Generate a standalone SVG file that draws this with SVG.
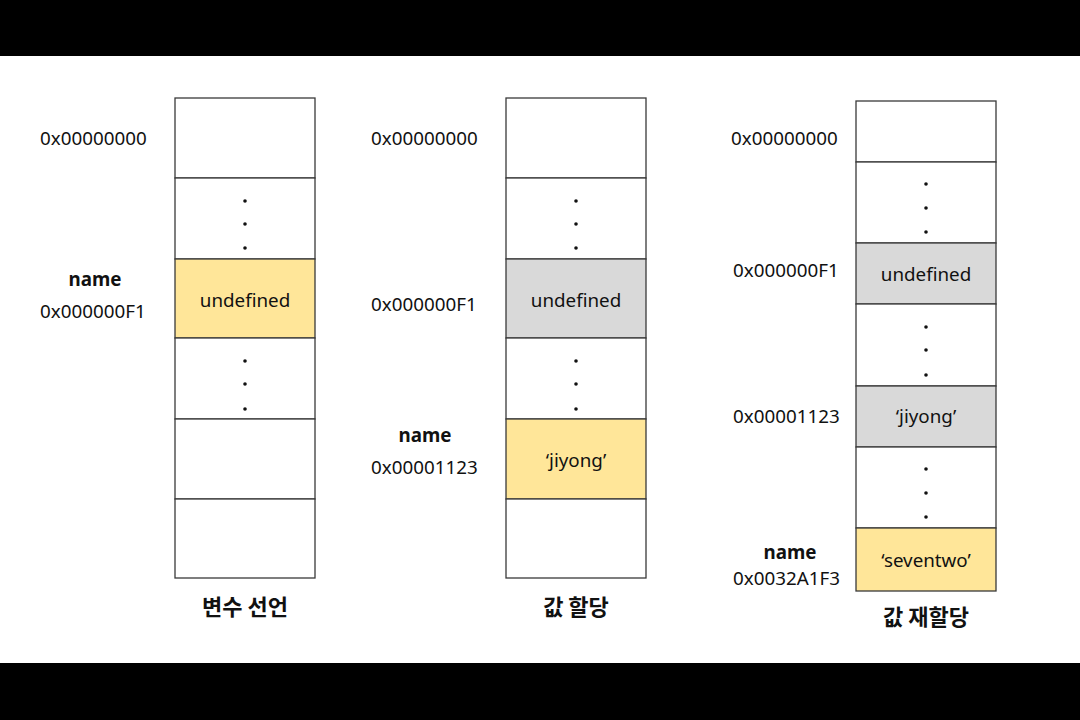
<svg xmlns="http://www.w3.org/2000/svg" width="1080" height="720" viewBox="0 0 1080 720">
<style>
.t{font-family:"Noto Sans","Noto Sans CJK KR",sans-serif;font-size:18.8px;fill:#111}
.b{font-weight:bold}
.c{text-anchor:middle}
.h{font-family:"Noto Sans CJK KR","Noto Sans",sans-serif;font-size:22px;font-weight:bold;fill:#111;text-anchor:middle}
.cell{stroke:#3a3a3a;stroke-width:1.3}
.w{fill:#fff}.y{fill:#FFE699}.g{fill:#D9D9D9}
.dot{fill:#111}
</style>
<rect x="0" y="0" width="1080" height="720" fill="#fff"/>
<rect x="0" y="0" width="1080" height="56" fill="#000"/>
<rect x="0" y="663" width="1080" height="57" fill="#000"/>

<g id="stage1">
<rect class="cell w" x="175" y="98" width="140" height="80"/>
<rect class="cell w" x="175" y="178" width="140" height="81"/>
<rect class="cell y" x="175" y="259" width="140" height="79"/>
<rect class="cell w" x="175" y="338" width="140" height="81"/>
<rect class="cell w" x="175" y="419" width="140" height="80"/>
<rect class="cell w" x="175" y="499" width="140" height="79"/>
<circle class="dot" cx="245" cy="201" r="1.8"/><circle class="dot" cx="245" cy="224" r="1.8"/><circle class="dot" cx="245" cy="248" r="1.8"/>
<circle class="dot" cx="245" cy="361" r="1.8"/><circle class="dot" cx="245" cy="384" r="1.8"/><circle class="dot" cx="245" cy="409" r="1.8"/>
<text class="t" x="40" y="145">0x00000000</text>
<text class="t b c" x="95" y="286">name</text>
<text class="t" x="40" y="318">0x000000F1</text>
<text class="t c" x="245" y="307">undefined</text>
<text class="h" x="245" y="615">변수 선언</text>
</g>

<g id="stage2">
<rect class="cell w" x="506" y="98" width="140" height="80"/>
<rect class="cell w" x="506" y="178" width="140" height="81"/>
<rect class="cell g" x="506" y="259" width="140" height="79"/>
<rect class="cell w" x="506" y="338" width="140" height="81"/>
<rect class="cell y" x="506" y="419" width="140" height="80"/>
<rect class="cell w" x="506" y="499" width="140" height="79"/>
<circle class="dot" cx="576" cy="201" r="1.8"/><circle class="dot" cx="576" cy="224" r="1.8"/><circle class="dot" cx="576" cy="248" r="1.8"/>
<circle class="dot" cx="576" cy="361" r="1.8"/><circle class="dot" cx="576" cy="384" r="1.8"/><circle class="dot" cx="576" cy="409" r="1.8"/>
<text class="t" x="371" y="145">0x00000000</text>
<text class="t" x="371" y="311">0x000000F1</text>
<text class="t c" x="576" y="307">undefined</text>
<text class="t b c" x="425" y="442">name</text>
<text class="t" x="371" y="474">0x00001123</text>
<text class="t c" x="576" y="467">‘jiyong’</text>
<text class="h" x="576" y="615">값 할당</text>
</g>

<g id="stage3">
<rect class="cell w" x="856" y="101" width="140" height="61"/>
<rect class="cell w" x="856" y="162" width="140" height="81"/>
<rect class="cell g" x="856" y="243" width="140" height="61"/>
<rect class="cell w" x="856" y="304" width="140" height="82"/>
<rect class="cell g" x="856" y="386" width="140" height="61"/>
<rect class="cell w" x="856" y="447" width="140" height="81"/>
<rect class="cell y" x="856" y="528" width="140" height="63"/>
<circle class="dot" cx="926" cy="184" r="1.8"/><circle class="dot" cx="926" cy="208" r="1.8"/><circle class="dot" cx="926" cy="232" r="1.8"/>
<circle class="dot" cx="926" cy="327" r="1.8"/><circle class="dot" cx="926" cy="350" r="1.8"/><circle class="dot" cx="926" cy="375" r="1.8"/>
<circle class="dot" cx="926" cy="469" r="1.8"/><circle class="dot" cx="926" cy="493" r="1.8"/><circle class="dot" cx="926" cy="517" r="1.8"/>
<text class="t" x="731" y="145">0x00000000</text>
<text class="t" x="733" y="277">0x000000F1</text>
<text class="t c" x="926" y="281">undefined</text>
<text class="t" x="733" y="423">0x00001123</text>
<text class="t c" x="926" y="423">‘jiyong’</text>
<text class="t b c" x="790" y="559">name</text>
<text class="t" x="733" y="585">0x0032A1F3</text>
<text class="t c" x="926" y="567">‘seventwo’</text>
<text class="h" x="926" y="625">값 재할당</text>
</g>
<g id="connectors"/>
</svg>
